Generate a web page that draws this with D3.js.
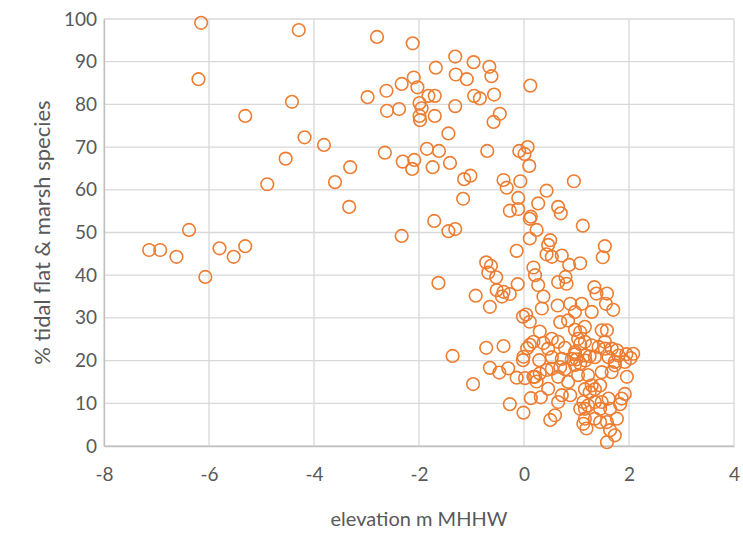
<html>
<meta charset="utf-8" />
<head>
<title>elevation vs tidal flat & marsh species</title>
<script src="https://cdn.jsdelivr.net/npm/d3@7"></script>
<style>
	body { margin: 0; background: #fff; }
	text { font-family: Lato, "Open Sans", sans-serif; fill: #595959; }
</style>
<script>

// elevation (m MHHW)
let elevation = [
	-6.15, -4.29, -6.20, -4.42, -5.31, -4.18, -4.54, -3.81, -3.31, -3.60,
	-4.89, -3.33, -6.38, -7.14, -6.93, -6.62, -5.80, -5.53, -5.31, -6.07,
	-2.80, -2.12, -1.31, -0.96, -0.66, -0.62, -1.68, -1.30, -1.09, -2.10,
	-2.33, -2.03, -2.62, -2.98, -1.82, -1.70, -0.95, -0.84, -0.57, 0.12,
	-1.99, -1.95, -2.61, -2.38, -1.31, -1.99, -1.70, -1.98, -0.46, -0.58,
	-1.44, -2.65, -1.85, -1.62, -0.70, -0.09, 0.07, 0.01, -2.31, -2.09,
	-1.41, -2.13, -1.74, -1.14, -1.02, -0.39, -0.33, -0.07, 0.10, -1.16,
	-0.11, -0.27, -0.11, 0.13, 0.11, 0.27, -1.71, -1.44, -1.31, -2.33,
	0.11, 0.24, -0.14, -0.72, -0.63, -0.68, -0.53, 0.18, 0.21, 0.27,
	-0.12, -1.63, -0.92, -0.52, -0.39, -0.27, -0.42, -0.65, 0.37, 0.34,
	-0.02, 0.04, 0.11, 0.30, -1.36, -0.72, -0.39, -0.65, -0.47, -0.30,
	-0.14, 0.02, -0.01, -0.02, 0.06, 0.18, 0.29, 0.21, 0.24, -0.97,
	-0.27, -0.01, 0.13, 0.32, 0.50, 0.95, 0.43, 0.65, 0.70, 1.12,
	0.50, 0.46, 0.43, 0.53, 0.72, 1.07, 0.86, 1.54, 1.50, 0.65,
	0.81, 0.79, 1.34, 1.38, 1.58, 1.56, 1.70, 0.64, 0.88, 1.10,
	1.29, 0.97, 0.84, 0.69, 1.16, 1.07, 1.48, 1.58, 0.53, 0.65,
	0.46, 1.03, 1.16, 1.29, 1.42, 1.54, 1.67, 1.77, 1.95, 2.08,
	0.53, 0.72, 0.91, 1.16, 1.35, 1.61, 1.80, 2.03, 1.96, 0.46,
	0.65, 0.84, 1.03, 1.29, 1.22, 1.67, 1.48, 1.73, 0.53, 0.69,
	0.88, 0.72, 0.65, 0.59, 1.13, 1.16, 1.22, 1.35, 1.48, 1.61,
	1.86, 1.92, 1.16, 1.13, 1.19, 1.58, 1.64, 1.73, 1.58, 1.77,
	1.35, 1.45, 0.11, 0.37, 0.18, 0.30, 0.43, 0.97, 1.07, 1.25,
	0.97, 1.17, 0.78, 0.97, 1.16, 1.35, 1.45, 1.25, 1.07, 1.45,
	1.64, 1.83, 1.92, 1.73, 1.54, 1.00, 1.07, 0.78, 0.97
];

// % tidal flat & marsh species
let species = [
	99.1, 97.4, 85.9, 80.6, 77.3, 72.3, 67.3, 70.5, 65.3, 61.8,
	61.3, 56.0, 50.6, 45.9, 45.9, 44.3, 46.3, 44.3, 46.8, 39.6,
	95.8, 94.3, 91.2, 89.9, 88.8, 86.6, 88.6, 87.0, 85.9, 86.3,
	84.8, 84.0, 83.2, 81.7, 82.0, 82.0, 82.0, 81.4, 82.3, 84.4,
	80.3, 79.1, 78.5, 78.9, 79.6, 77.3, 77.3, 76.3, 77.8, 75.9,
	73.2, 68.7, 69.6, 69.1, 69.1, 69.1, 70.0, 68.4, 66.6, 67.0,
	66.3, 64.9, 65.3, 62.5, 63.3, 62.3, 60.5, 62.0, 65.6, 57.9,
	58.1, 55.1, 55.5, 53.7, 53.2, 56.8, 52.7, 50.3, 50.8, 49.2,
	48.6, 50.6, 45.7, 43.0, 42.2, 40.6, 39.5, 41.8, 40.0, 37.7,
	37.9, 38.2, 35.2, 36.5, 36.1, 35.6, 35.0, 32.6, 35.0, 32.2,
	30.3, 30.8, 29.1, 26.8, 21.1, 23.0, 23.4, 18.3, 17.2, 18.2,
	16.0, 15.9, 20.9, 20.1, 22.9, 24.4, 20.1, 16.2, 15.1, 14.5,
	9.8, 7.8, 11.2, 11.4, 6.1, 62.0, 59.8, 56.0, 54.5, 51.6,
	48.2, 47.1, 44.9, 44.3, 44.6, 42.8, 42.4, 46.8, 44.2, 38.4,
	38.0, 39.6, 37.2, 35.7, 35.7, 33.3, 31.9, 32.9, 33.3, 33.3,
	31.4, 31.4, 29.4, 29.0, 27.9, 26.7, 27.1, 27.1, 25.1, 24.4,
	22.8, 25.1, 24.4, 23.6, 23.2, 22.8, 22.8, 22.4, 21.5, 21.6,
	20.8, 20.4, 20.4, 21.2, 20.8, 20.8, 21.2, 20.6, 16.2, 13.4,
	16.2, 15.0, 16.6, 14.2, 16.6, 17.3, 17.3, 18.9, 18.1, 18.5,
	11.9, 11.9, 10.3, 7.2, 10.3, 8.7, 9.5, 10.3, 10.3, 11.1,
	11.1, 12.2, 6.4, 5.2, 4.1, 5.6, 3.7, 2.5, 0.9, 6.4,
	6.4, 5.6, 23.7, 24.1, 16.2, 17.0, 17.8, 27.2, 23.9, 21.0,
	19.0, 20.0, 18.0, 22.0, 13.3, 13.3, 14.2, 12.6, 8.7, 8.7,
	8.7, 9.8, 19.7, 19.7, 24.4, 20.3, 19.3, 23.0, 21.5
];

let xTicks = [-8, -6, -4, -2, 0, 2, 4];
let yTicks = [0, 10, 20, 30, 40, 50, 60, 70, 80, 90, 100];

window.onload = function() {
	let width = 743, height = 538;
	let margin = { top: 19, right: 9, bottom: 92, left: 104 };

	let svg = d3.select('svg')
		.attr('width', width)
		.attr('height', height);

	let x = d3.scaleLinear().domain([-8, 4]).range([margin.left, width - margin.right]);
	let y = d3.scaleLinear().domain([0, 100]).range([height - margin.bottom, margin.top]);

	// gridlines
	svg.append('g')
		.selectAll('line')
		.data(yTicks)
		.enter()
		.append('line')
		.attr('x1', margin.left)
		.attr('x2', width - margin.right)
		.attr('y1', function(d) { return y(d); })
		.attr('y2', function(d) { return y(d); })
		.style('stroke', '#d9d9d9')
		.style('stroke-width', '1.3px');

	svg.append('g')
		.selectAll('line')
		.data(xTicks)
		.enter()
		.append('line')
		.attr('x1', function(d) { return x(d); })
		.attr('x2', function(d) { return x(d); })
		.attr('y1', margin.top)
		.attr('y2', height - margin.bottom)
		.style('stroke', '#d9d9d9')
		.style('stroke-width', '1.3px');

	// axes (plain hyphen for negatives, like the original)
	let xAxis = svg.append('g')
		.attr('transform', 'translate(0,' + (height - margin.bottom) + ')')
		.call(d3.axisBottom(x).tickValues(xTicks).tickSize(0).tickPadding(22)
			.tickFormat(function(d) { return String(d); }));
	xAxis.select('.domain').style('stroke', '#bfbfbf').style('stroke-width', '1.3px');
	xAxis.selectAll('text').style('font-size', '19px').style('fill', '#595959')
		.style('font-family', 'Lato, sans-serif');

	let yAxis = svg.append('g')
		.attr('transform', 'translate(' + margin.left + ',0)')
		.call(d3.axisLeft(y).tickValues(yTicks).tickSize(0).tickPadding(7));
	yAxis.select('.domain').style('stroke', '#bfbfbf').style('stroke-width', '1.3px');
	yAxis.selectAll('text').style('font-size', '19px').style('fill', '#595959')
		.style('font-family', 'Lato, sans-serif');

	// points
	svg.append('g')
		.selectAll('circle')
		.data(elevation)
		.enter()
		.append('circle')
		.attr('cx', function(d) { return x(d); })
		.attr('cy', function(d, i) { return y(species[i]); })
		.attr('r', 6.3)
		.style('fill', 'none')
		.style('stroke', '#ed7d31')
		.style('stroke-width', '1.6px');

	// titles
	svg.append('text')
		.attr('x', (margin.left + width - margin.right) / 2)
		.attr('y', 526)
		.attr('text-anchor', 'middle')
		.style('font-size', '20px')
		.text('elevation m MHHW');

	svg.append('text')
		.attr('transform', 'translate(50,' + ((margin.top + height - margin.bottom) / 2) + ') rotate(-90)')
		.attr('text-anchor', 'middle')
		.style('font-size', '22px')
		.text('% tidal flat & marsh species');
}

</script>
</head>
<body>
	<svg></svg>
</body>
</html>
